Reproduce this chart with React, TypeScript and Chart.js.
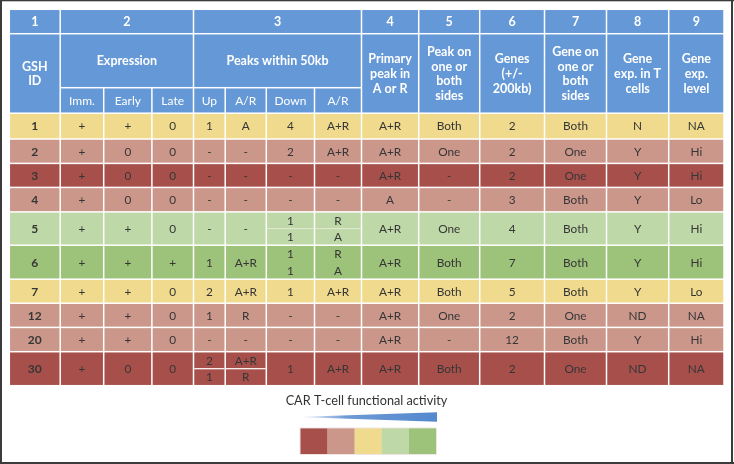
import React, { useEffect, useRef } from 'react';
import { Chart, registerables } from 'chart.js';

Chart.register(...registerables);

// ---------------- DATA ----------------
const columnNumbers = ['1', '2', '3', '4', '5', '6', '7', '8', '9'];
const groupTitles = [
  'GSH\nID',
  'Expression',
  'Peaks within 50kb',
  'Primary\npeak in\nA or R',
  'Peak on\none or\nboth\nsides',
  'Genes\n(+/-\n200kb)',
  'Gene on\none or\nboth\nsides',
  'Gene\nexp. in T\ncells',
  'Gene\nexp.\nlevel',
];
const subTitles = ['Imm.', 'Early', 'Late', 'Up', 'A/R', 'Down', 'A/R'];

const gshIds = ['1', '2', '3', '4', '5', '6', '7', '12', '20', '30'];
const activityLevel = [2, 1, 0, 1, 3, 4, 2, 1, 1, 0]; // 0 = lowest CAR T-cell activity, 4 = highest
const immExpr = ['+', '+', '+', '+', '+', '+', '+', '+', '+', '+'];
const earlyExpr = ['+', '0', '0', '0', '+', '+', '+', '+', '+', '0'];
const lateExpr = ['0', '0', '0', '0', '0', '+', '0', '0', '0', '0'];
const upPeaks: (string | string[])[] = ['1', '-', '-', '-', '-', '1', '2', '1', '-', ['2', '1']];
const upAR: (string | string[])[] = ['A', '-', '-', '-', '-', 'A+R', 'A+R', 'R', '-', ['A+R', 'R']];
const downPeaks: (string | string[])[] = ['4', '2', '-', '-', ['1', '1'], ['1', '1'], '1', '-', '-', '1'];
const downAR: (string | string[])[] = ['A+R', 'A+R', '-', '-', ['R', 'A'], ['R', 'A'], 'A+R', '-', '-', 'A+R'];
const primaryPeak = ['A+R', 'A+R', 'A+R', 'A', 'A+R', 'A+R', 'A+R', 'A+R', 'A+R', 'A+R'];
const peakSides = ['Both', 'One', '-', '-', 'One', 'Both', 'Both', 'One', '-', 'Both'];
const genesNearby = ['2', '2', '2', '3', '4', '7', '5', '2', '12', '2'];
const geneSides = ['Both', 'One', 'One', 'Both', 'Both', 'Both', 'Both', 'One', 'Both', 'One'];
const geneExpT = ['N', 'Y', 'Y', 'Y', 'Y', 'Y', 'Y', 'ND', 'Y', 'ND'];
const geneExpLevel = ['NA', 'Hi', 'Hi', 'Lo', 'Hi', 'Hi', 'Lo', 'NA', 'Hi', 'NA'];
const legendTitle = 'CAR T-cell functional activity';
const legendLevels = [0, 1, 2, 3, 4];

const bodyColumns = [
  gshIds, immExpr, earlyExpr, lateExpr, upPeaks, upAR, downPeaks, downAR,
  primaryPeak, peakSides, genesNearby, geneSides, geneExpT, geneExpLevel,
];

// ---------------- LAYOUT / STYLE ----------------
const W = 734;
const H = 464;
const colEdges = [9.3, 60.2, 103.7, 151.9, 193.5, 225.2, 266.3, 314.5, 361.5, 418.7, 479.7, 544.5, 606.5, 668.7, 724];
const headerEdges = [9.3, 33.7, 87.7, 113.2];
const bodyEdges = [113.2, 139, 163.4, 187.4, 211.9, 245.2, 279.2, 303.2, 327.4, 351.7, 385.7];
const groupSpans = [[0, 1], [1, 4], [4, 8], [8, 9], [9, 10], [10, 11], [11, 12], [12, 13], [13, 14]];
const gap = 1.5;
const headerBlue = '#6498d6';
const activityColors = ['#a7504b', '#cc978b', '#efda8d', '#bfd8a7', '#9dc279'];
const textColor = '#363636';
const splitLineStyle: Record<number, string> = { 4: 'rgba(255,255,255,0.45)', 5: 'rgba(255,255,255,0)', 9: '#ffffff' };
const FONT = 'Lato, "Open Sans", sans-serif';

const tablePlugin = {
  id: 'tablePlugin',
  afterDraw(chart: any) {
    const ctx: CanvasRenderingContext2D = chart.ctx;
    const xs = chart.scales.x;
    const ys = chart.scales.y;
    const X = (v: number) => xs.getPixelForValue(v);
    const Y = (v: number) => ys.getPixelForValue(v);

    const rect = (x0: number, y0: number, x1: number, y1: number, color: string) => {
      ctx.fillStyle = color;
      const px0 = X(x0), px1 = X(x1), py0 = Y(y0), py1 = Y(y1);
      ctx.fillRect(px0, py0, px1 - px0, py1 - py0);
    };
    const cell = (c0: number, c1: number, y0: number, y1: number, color: string) => {
      rect(colEdges[c0] + gap / 2, y0 + gap / 2, colEdges[c1] - gap / 2, y1 - gap / 2, color);
    };
    const text = (s: string, cx: number, cy: number, font: string, color: string, lh = 14.8) => {
      ctx.save();
      ctx.font = font;
      ctx.fillStyle = color;
      ctx.textAlign = 'center';
      ctx.textBaseline = 'middle';
      const lines = s.split('\n');
      const n = lines.length;
      lines.forEach((ln, i) => {
        ctx.fillText(ln, X(cx), Y(cy + (i - (n - 1) / 2) * lh) + 0.5);
      });
      ctx.restore();
    };

    // background
    rect(0, 0, W, H, '#ffffff');

    // header row 1: column numbers
    groupSpans.forEach(([c0, c1], g) => {
      cell(c0, c1, headerEdges[0], headerEdges[1], headerBlue);
      text(columnNumbers[g], (colEdges[c0] + colEdges[c1]) / 2, (headerEdges[0] + headerEdges[1]) / 2, `bold 12.5px ${FONT}`, '#ffffff');
    });
    // header row 2/3: titles
    groupSpans.forEach(([c0, c1], g) => {
      const spansSub = c1 - c0 > 1;
      const yBottom = spansSub ? headerEdges[2] : headerEdges[3];
      cell(c0, c1, headerEdges[1], yBottom, headerBlue);
      text(groupTitles[g], (colEdges[c0] + colEdges[c1]) / 2, (headerEdges[1] + yBottom) / 2, `bold 12.5px ${FONT}`, '#ffffff');
    });
    subTitles.forEach((s, i) => {
      const c = i + 1;
      cell(c, c + 1, headerEdges[2], headerEdges[3], headerBlue);
      text(s, (colEdges[c] + colEdges[c + 1]) / 2, (headerEdges[2] + headerEdges[3]) / 2, `12px ${FONT}`, '#ffffff');
    });

    // body
    gshIds.forEach((_, r) => {
      const y0 = bodyEdges[r];
      const y1 = bodyEdges[r + 1];
      const color = activityColors[activityLevel[r]];
      bodyColumns.forEach((col, c) => {
        const v = col[r] as string | string[];
        const cx = (colEdges[c] + colEdges[c + 1]) / 2;
        const font = c === 0 ? `bold 12px ${FONT}` : `11.8px ${FONT}`;
        if (Array.isArray(v)) {
          const mid = (y0 + y1) / 2;
          cell(c, c + 1, y0, y1, color);
          const ls = splitLineStyle[r];
          if (ls) {
            rect(colEdges[c] + gap / 2, mid - 0.6, colEdges[c + 1] - gap / 2, mid + 0.6, ls);
          }
          text(v[0], cx, (y0 + gap / 2 + mid) / 2, font, textColor);
          text(v[1], cx, (mid + y1 - gap / 2) / 2, font, textColor);
        } else {
          cell(c, c + 1, y0, y1, color);
          text(v, cx, (y0 + y1) / 2, font, textColor);
        }
      });
    });

    // legend title
    text(legendTitle, 366.5, 400, `12.7px ${FONT}`, '#333333');

    // wedge
    ctx.save();
    const wx0 = X(297), wx1 = X(437);
    const grad = ctx.createLinearGradient(wx0, 0, wx1, 0);
    grad.addColorStop(0, 'rgba(84,136,206,0)');
    grad.addColorStop(0.35, 'rgba(84,136,206,0.85)');
    grad.addColorStop(1, 'rgba(84,136,206,1)');
    ctx.fillStyle = grad;
    ctx.beginPath();
    ctx.moveTo(wx0, Y(417));
    ctx.lineTo(wx1, Y(412.3));
    ctx.lineTo(wx1, Y(421.7));
    ctx.closePath();
    ctx.fill();
    ctx.restore();

    // activity colour scale
    const bx0 = 300.5, bw = 27.1;
    rect(bx0 - 1, 427.5, bx0 + bw * legendLevels.length + 1, 455, 'rgba(220,200,195,0.45)');
    legendLevels.forEach((lv, i) => {
      rect(bx0 + i * bw, 428.4, bx0 + (i + 1) * bw, 454, activityColors[lv]);
    });

    // outer frame
    const frame = '#3b3b3b';
    rect(0, 0, 2, H, frame);
    rect(0, 0, W, 1.3, frame);
    rect(731, 0, 733, H, frame);
    rect(0, 462, W, H, frame);
  },
};

export default function App() {
  const ref = useRef<HTMLCanvasElement | null>(null);
  useEffect(() => {
    document.body.style.margin = '0';
    const canvas = ref.current!;
    const chart = new Chart(canvas, {
      type: 'scatter',
      data: { datasets: [{ data: [] }] },
      options: {
        animation: false,
        responsive: false,
        devicePixelRatio: 1,
        layout: { padding: 0 },
        plugins: { legend: { display: false }, tooltip: { enabled: false } },
        scales: {
          x: { type: 'linear', min: 0, max: W, display: false },
          y: { type: 'linear', min: 0, max: H, reverse: true, display: false },
        },
      },
      plugins: [tablePlugin],
    });
    let alive = true;
    if ((document as any).fonts && (document as any).fonts.load) {
      Promise.all([
        (document as any).fonts.load(`11px Lato`),
        (document as any).fonts.load(`bold 11px Lato`),
      ]).then(() => { if (alive) chart.draw(); }).catch(() => {});
    }
    return () => { alive = false; chart.destroy(); };
  }, []);
  return (
    <div style={{ width: W, height: H }}>
      <canvas ref={ref} width={W} height={H} style={{ display: 'block', width: W, height: H }} />
    </div>
  );
}
